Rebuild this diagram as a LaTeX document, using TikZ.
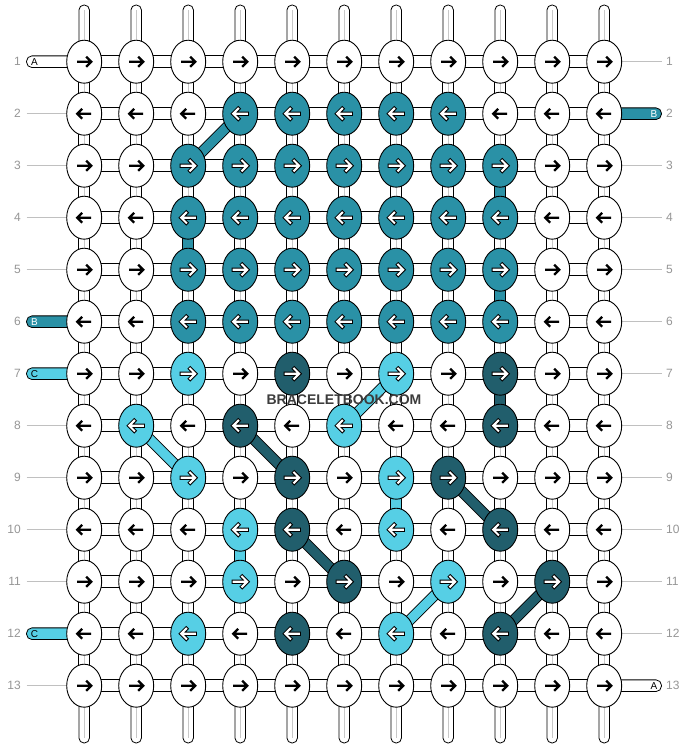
\documentclass[tikz,border=0pt]{standalone}
\usepackage{fontspec}
\setmainfont{Liberation Sans}
\usetikzlibrary{shapes.geometric}
\definecolor{cT}{RGB}{42,145,166}
\definecolor{cL}{RGB}{86,207,229}
\definecolor{cD}{RGB}{33,94,108}
\definecolor{cLab}{RGB}{150,150,150}
\definecolor{cLine}{RGB}{192,192,192}
\definecolor{cMid}{RGB}{200,200,200}
\definecolor{cWm}{RGB}{60,60,60}
\tikzset{
 knot/.style={ellipse, draw=black, line width=0.9pt, minimum width=35pt, minimum height=43pt, inner sep=0pt},
 hconn/.style={draw=black, fill=white, line width=0.8pt},
 vconn/.style={draw=black, fill=white, line width=0.8pt},
 vstrand/.style={draw=black, fill=white, line width=0.8pt, rounded corners=5pt},
 vmid/.style={draw=cMid, line width=1pt},
 side/.style={draw=black, line width=0.8pt, rounded corners=5.5pt},
 rowline/.style={draw=cLine, line width=1pt},
 lab/.style={text=cLab, font=\fontsize{12}{14}\selectfont, inner sep=0pt},
 sidelab/.style={font=\fontsize{10}{12}\selectfont, inner sep=0pt},
 barrR/.pic={\draw[line width=2.3pt, line join=miter] (-7,0) -- (6,0) (2,-5) -- (7,0) -- (2,5);},
 barrL/.pic={\draw[line width=2.3pt, line join=miter] (7,0) -- (-6,0) (-2,-5) -- (-7,0) -- (-2,5);},
 warrR/.pic={\draw[line width=4.1pt, line join=miter, line cap=rect] (-6.5,0) -- (5,0) (2,-5) -- (7,0) -- (2,5);
   \draw[white, line width=2.1pt, line join=miter, line cap=rect] (-6.5,0) -- (5,0) (2,-5) -- (7,0) -- (2,5);},
 warrL/.pic={\draw[line width=4.1pt, line join=miter, line cap=rect] (6.5,0) -- (-5,0) (-2,-5) -- (-7,0) -- (-2,5);
   \draw[white, line width=2.1pt, line join=miter, line cap=rect] (6.5,0) -- (-5,0) (-2,-5) -- (-7,0) -- (-2,5);}
}
\begin{document}
\begin{tikzpicture}[x=1pt,y=-1pt]
\useasboundingbox (0,0) rectangle (688,748);
\fill[white] (0,0) rectangle (688,748);
% coordinates
\foreach \r in {1,...,13}{
  \foreach \c in {1,...,11}{\coordinate (p-\r-\c) at ({84.2+52*(\c-1)},{61.7+52*(\r-1)});}
  \coordinate (lend-\r) at (26.5,{61.7+52*(\r-1)});
  \coordinate (rend-\r) at (661.5,{61.7+52*(\r-1)});
}
\foreach \c in {1,...,11}{
  \coordinate (top-\c) at ({84.2+52*(\c-1)},5);
  \coordinate (bot-\c) at ({84.2+52*(\c-1)},743);
}
% row labels and guide lines
\foreach \r in {1,...,13}{
  \node[lab, anchor=east] (ll-\r) at (21,{61.7+52*(\r-1)}) {\r};
  \node[lab, anchor=west] (rl-\r) at (666,{61.7+52*(\r-1)}) {\r};
}
\foreach \r in {2,3,4,5,8,9,10,11,13} \draw[rowline] (lend-\r) -- (p-\r-1);
\foreach \r in {1,3,4,5,6,7,8,9,10,11,12} \draw[rowline] (p-\r-11) -- (rend-\r);
% side strands
\draw[side, fill=white] ([yshift=-5.85pt]lend-1) rectangle ([yshift=5.85pt]p-1-1);
\draw[side, fill=cT] ([yshift=-5.85pt]lend-6) rectangle ([yshift=5.85pt]p-6-1);
\draw[side, fill=cL] ([yshift=-5.85pt]lend-7) rectangle ([yshift=5.85pt]p-7-1);
\draw[side, fill=cL] ([yshift=-5.85pt]lend-12) rectangle ([yshift=5.85pt]p-12-1);
\draw[side, fill=cT] ([yshift=-5.85pt]p-2-11) rectangle ([yshift=5.85pt]rend-2);
\draw[side, fill=white] ([yshift=-5.85pt]p-13-11) rectangle ([yshift=5.85pt]rend-13);
\node[sidelab] (sa-1) at ([xshift=8pt]lend-1) {A};
\node[sidelab, text=white] (sb-6) at ([xshift=8pt]lend-6) {B};
\node[sidelab] (sc-7) at ([xshift=8pt]lend-7) {C};
\node[sidelab] (sc-12) at ([xshift=8pt]lend-12) {C};
\node[sidelab, text=white] (sb-2) at ([xshift=-7.5pt]rend-2) {B};
\node[sidelab] (sa-13) at ([xshift=-7.5pt]rend-13) {A};
% top and bottom strands
\foreach \c in {1,...,11}{
  \draw[vstrand] ([xshift=-5.25pt]top-\c) rectangle ([xshift=5.25pt]p-1-\c);
  \draw[vmid] ([yshift=-5pt]top-\c) -- (p-1-\c);
  \draw[vstrand] ([xshift=-5.25pt]p-13-\c) rectangle ([xshift=5.25pt]bot-\c);
  \draw[vmid] (p-13-\c) -- ([yshift=5pt]bot-\c);
}
% vertical connectors
\foreach \r [evaluate=\r as \rn using int(\r+1)] in {1,...,12}{
  \foreach \c in {1,...,11}{
    \draw[vconn] ([xshift=-5.6pt]p-\r-\c) rectangle ([xshift=5.6pt]p-\rn-\c);
    \draw[vmid] (p-\r-\c) -- (p-\rn-\c);
  }
}
\foreach \r/\c/\col in {4/3/cT, 3/9/cT, 5/9/cT, 7/9/cD, 9/7/cL, 10/4/cL}{
  \pgfmathtruncatemacro\rn{\r+1}
  \draw[vconn, fill=\col] ([xshift=-5.6pt]p-\r-\c) rectangle ([xshift=5.6pt]p-\rn-\c);
}
% horizontal connectors
\foreach \r in {1,...,13}{
  \foreach \c [evaluate=\c as \cn using int(\c+1)] in {1,...,10}{
    \draw[hconn] ([yshift=-5.85pt]p-\r-\c) rectangle ([yshift=5.85pt]p-\r-\cn);
  }
}
% diagonal strands
\foreach \ra/\ca/\rb/\cb/\col in {3/3/2/4/cT, 7/7/8/6/cL, 8/2/9/3/cL, 8/4/9/5/cD, 10/5/11/6/cD, 9/8/10/9/cD, 12/7/11/8/cL, 12/9/11/10/cD}{
  \draw[line width=11pt, black] (p-\ra-\ca) -- (p-\rb-\cb);
  \draw[line width=9.3pt, \col] (p-\ra-\ca) -- (p-\rb-\cb);
}
% colour map
\foreach \c in {4,...,8}{\expandafter\xdef\csname kc-2-\c\endcsname{cT}}
\foreach \r in {3,...,6}{\foreach \c in {3,...,9}{\expandafter\xdef\csname kc-\r-\c\endcsname{cT}}}
\foreach \r/\c/\col in {7/3/cL, 7/5/cD, 7/7/cL, 7/9/cD,
  8/2/cL, 8/4/cD, 8/6/cL, 8/9/cD,
  9/3/cL, 9/5/cD, 9/7/cL, 9/8/cD,
  10/4/cL, 10/5/cD, 10/7/cL, 10/9/cD,
  11/4/cL, 11/6/cD, 11/8/cL, 11/10/cD,
  12/3/cL, 12/5/cD, 12/7/cL, 12/9/cD}{\expandafter\xdef\csname kc-\r-\c\endcsname{\col}}
% knots
\foreach \r in {1,...,13}{
  \foreach \c in {1,...,11}{
    \ifcsname kc-\r-\c\endcsname
      \edef\kcol{\csname kc-\r-\c\endcsname}
      \node[knot, fill=\kcol] (k-\r-\c) at (p-\r-\c) {};
      \ifodd\r\relax \pic at (p-\r-\c) {warrR}; \else \pic at (p-\r-\c) {warrL}; \fi
    \else
      \node[knot, fill=white] (k-\r-\c) at (p-\r-\c) {};
      \ifodd\r\relax \pic at (p-\r-\c) {barrR}; \else \pic at (p-\r-\c) {barrL}; \fi
    \fi
  }
}
% watermark
\node[font=\bfseries\fontsize{14}{16}\selectfont, text=cWm, inner sep=0pt] (wm) at (344,399.5) {BRACELETBOOK.COM};
\end{tikzpicture}
\end{document}
